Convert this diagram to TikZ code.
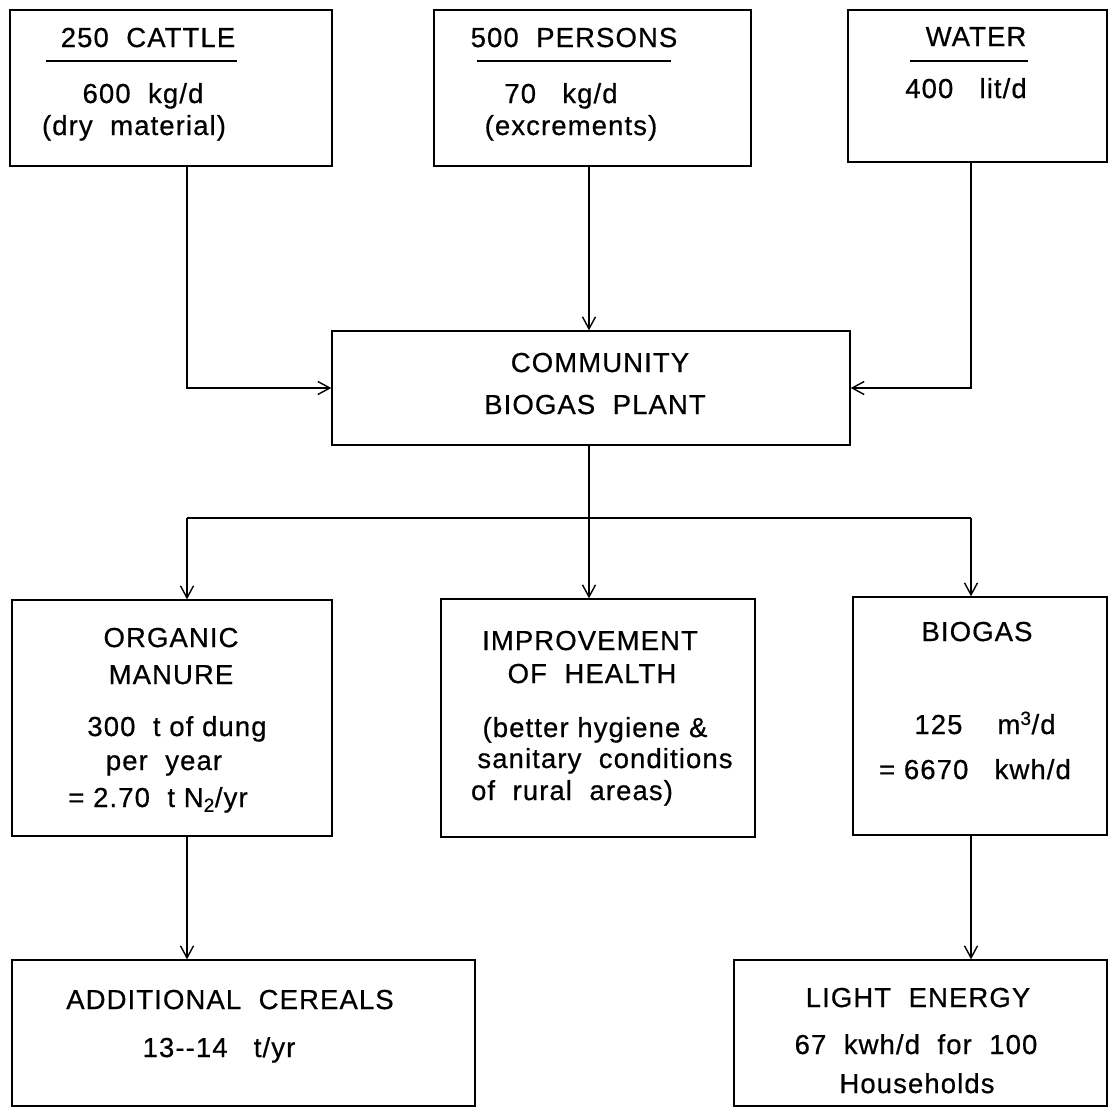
\documentclass[tikz,border=0pt]{standalone}
\usepackage{fontspec}
\newfontfamily\twfont{Liberation Sans}[LetterSpace=4,FakeBold=0.6]
\usetikzlibrary{arrows.meta}
\begin{document}
\begin{tikzpicture}[x=1pt,y=-1pt,
  box/.style={draw, line width=1.4pt, inner sep=0pt, rectangle},
  txt/.style={anchor=base, inner sep=0pt, font=\twfont\fontsize{27.5}{32}\selectfont},
  link/.style={line width=1.4pt},
  arr/.style={line width=1.4pt, -{Straight Barb[length=12pt,width=13pt,line width=1.4pt]}}
]
\useasboundingbox (0,0) rectangle (1115,1109);
% column coordinates
\coordinate (colL) at (187,0);
\coordinate (colM) at (589,0);
\coordinate (colR) at (971,0);
\coordinate (branch) at (0,518);
% boxes
\node[box, minimum width=322pt, minimum height=156pt] (cattle) at (171,88) {};
\node[box, minimum width=317pt, minimum height=156pt] (persons) at (592.5,88) {};
\node[box, minimum width=259pt, minimum height=152pt] (water) at (977.5,86) {};
\node[box, minimum width=518pt, minimum height=114pt] (community) at (591,388) {};
\node[box, minimum width=320pt, minimum height=236pt] (organic) at (172,718) {};
\node[box, minimum width=314pt, minimum height=238pt] (health) at (598,718) {};
\node[box, minimum width=254pt, minimum height=238pt] (biogas) at (980,716) {};
\node[box, minimum width=463pt, minimum height=146pt] (cereals) at (243.5,1033) {};
\node[box, minimum width=373pt, minimum height=146pt] (light) at (920.5,1033) {};
% texts
\node[txt] (t1a) at (148,47) {250\ \ CATTLE};
\draw[line width=1.4pt] (46,61) -- (237,61);
\node[txt] (t1b) at (143,103) {600\ \ kg/d};
\node[txt] (t1c) at (134,135) {(dry\ \ material)};
\node[txt] (t2a) at (574,47) {500\ \ PERSONS};
\draw[line width=1.4pt] (477,61) -- (671,61);
\node[txt] (t2b) at (561,103) {70\ \ \ kg/d};
\node[txt] (t2c) at (571,135) {(excrements)};
\node[txt] (t3a) at (976,46) {WATER};
\draw[line width=1.4pt] (910,61) -- (1028,61);
\node[txt] (t3b) at (966,98) {400\ \ \ lit/d};
\node[txt] (t4a) at (600,372) {COMMUNITY};
\node[txt] (t4b) at (595,414) {BIOGAS\ \ PLANT};
\node[txt] (t5a) at (171,647) {ORGANIC};
\node[txt] (t5b) at (171,684) {MANURE};
\node[txt] (t5c) at (177,736) {300\ \ t\ of\ dung};
\node[txt] (t5d) at (164,770) {per\ \ year};
\node[txt] (t5e) at (158,807) {= 2.70\ \ t\ N\textsubscript{2}/yr};
\node[txt] (t6a) at (590,650) {IMPROVEMENT};
\node[txt] (t6b) at (592,683) {OF\ \ HEALTH};
\node[txt] (t6c) at (595,737) {(better\ hygiene\ \&};
\node[txt] (t6d) at (605,768) {sanitary\ \ conditions};
\node[txt] (t6e) at (572,800) {of\ \ rural\ \ areas)};
\node[txt] (t7a) at (977,641) {BIOGAS};
\node[txt] (t7b) at (985,734) {125\ \ \ \ m\textsuperscript{3}/d};
\node[txt] (t7c) at (975,779) {= 6670\ \ \ kwh/d};
\node[txt] (t8a) at (230,1009) {ADDITIONAL\ \ CEREALS};
\node[txt] (t8b) at (219,1057) {13-{}-14\ \ \ t/yr};
\node[txt] (t9a) at (918,1007) {LIGHT\ \ ENERGY};
\node[txt] (t9b) at (916,1054) {67\ \ kwh/d\ \ for\ \ 100};
\node[txt] (t9c) at (917,1093) {Households};
% connectors
\draw[arr] (cattle.south -| colL) |- (community.west);
\draw[arr] (persons.south -| colM) -- (community.north -| colM);
\draw[arr] (water.south -| colR) |- (community.east);
\draw[link] (community.south -| colM) -- (branch -| colM);
\draw[link] (branch -| colL) -- (branch -| colR);
\draw[arr] (branch -| colL) -- (organic.north -| colL);
\draw[arr] (branch -| colM) -- (health.north -| colM);
\draw[arr] (branch -| colR) -- (biogas.north -| colR);
\draw[arr] (organic.south -| colL) -- (cereals.north -| colL);
\draw[arr] (biogas.south -| colR) -- (light.north -| colR);
\end{tikzpicture}
\end{document}
